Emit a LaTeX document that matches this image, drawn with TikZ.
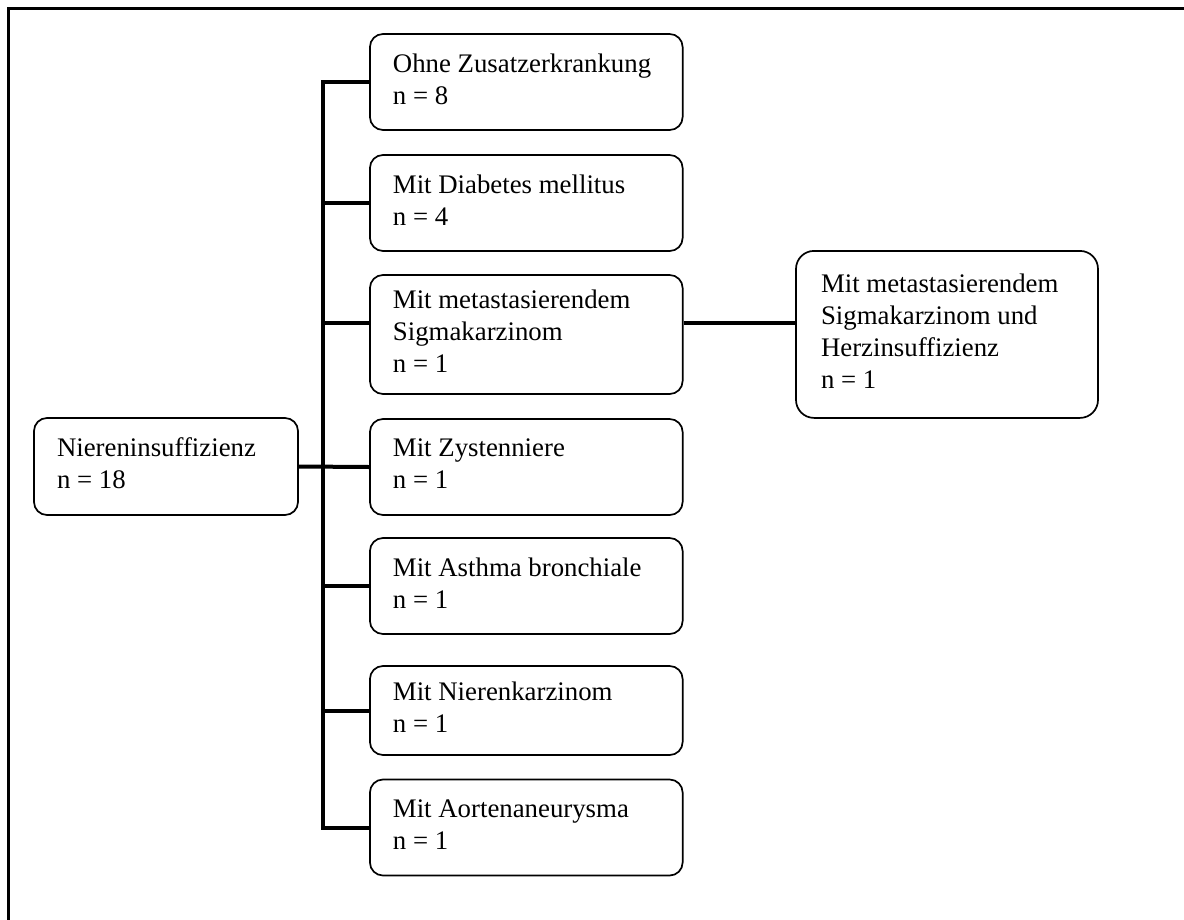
\documentclass[tikz,border=0pt]{standalone}
\usepackage{fontspec}
\setmainfont{Liberation Serif}
\begin{document}
\begin{tikzpicture}[x=1pt,y=-1pt,
  box/.style={draw=black, line width=1.7pt, rounded corners=13pt,
    inner ysep=0pt, inner xsep=23pt, align=flush left,
    execute at end node={\rule[-6pt]{0pt}{0pt}},
    font=\fontsize{26.8}{32}\selectfont},
  childbox/.style={box, text width=266.7pt, minimum height=96pt},
  conn/.style={draw=black, line width=4pt, line join=miter}]
  \clip (0,0) rectangle (1184,919);
  % outer frame (continues past the right and bottom edges)
  \draw[line width=3pt] (1210,8.5) -- (8.5,8.5) -- (8.5,950);

  % root
  \node[box, text width=218pt, minimum height=97pt] (root) at (166,466.5)
    {Niereninsuffizienz\\n = 18};

  % first-level groups
  \node[childbox] (c1) at (526.3,82)  {Ohne Zusatzerkrankung\\n = 8};
  \node[childbox] (c2) at (526.3,203) {Mit Diabetes mellitus\\n = 4};
  \node[childbox, minimum height=119pt] (c3) at (526.3,334.5)
    {Mit metastasierendem\\Sigmakarzinom\\n = 1};
  \node[childbox] (c4) at (526.3,467) {Mit Zystenniere\\n = 1};
  \node[childbox] (c5) at (526.3,586) {Mit Asthma bronchiale\\n = 1};
  \node[childbox, minimum height=89pt] (c6) at (526.3,710.5) {Mit Nierenkarzinom\\n = 1};
  \node[childbox] (c7) at (526.3,827.5) {Mit Aortenaneurysma\\n = 1};

  % second-level group
  \node[box, rounded corners=18pt, inner xsep=25pt, text width=252pt,
    minimum height=167pt] (r) at (947,334.4)
    {Mit metastasierendem\\Sigmakarzinom und\\Herzinsuffizienz\\n = 1};

  % connectors
  \coordinate (tk) at (323,0);
  \draw[conn] (c1.west) -| (tk |- c7.west) -- (c7.west);
  \draw[conn] (root.east) -- (c4.west);
  \draw[conn] (tk |- c2.west) -- (c2.west);
  \coordinate (c3a) at ([yshift=12pt]c3.west);
  \coordinate (c3b) at ([yshift=12pt]c3.east);
  \draw[conn] (tk |- c3a) -- (c3a);
  \draw[conn] (tk |- c5.west) -- (c5.west);
  \draw[conn] (tk |- c6.west) -- (c6.west);
  \draw[conn] (c3b) -- (c3b -| r.west);
\end{tikzpicture}
\end{document}
